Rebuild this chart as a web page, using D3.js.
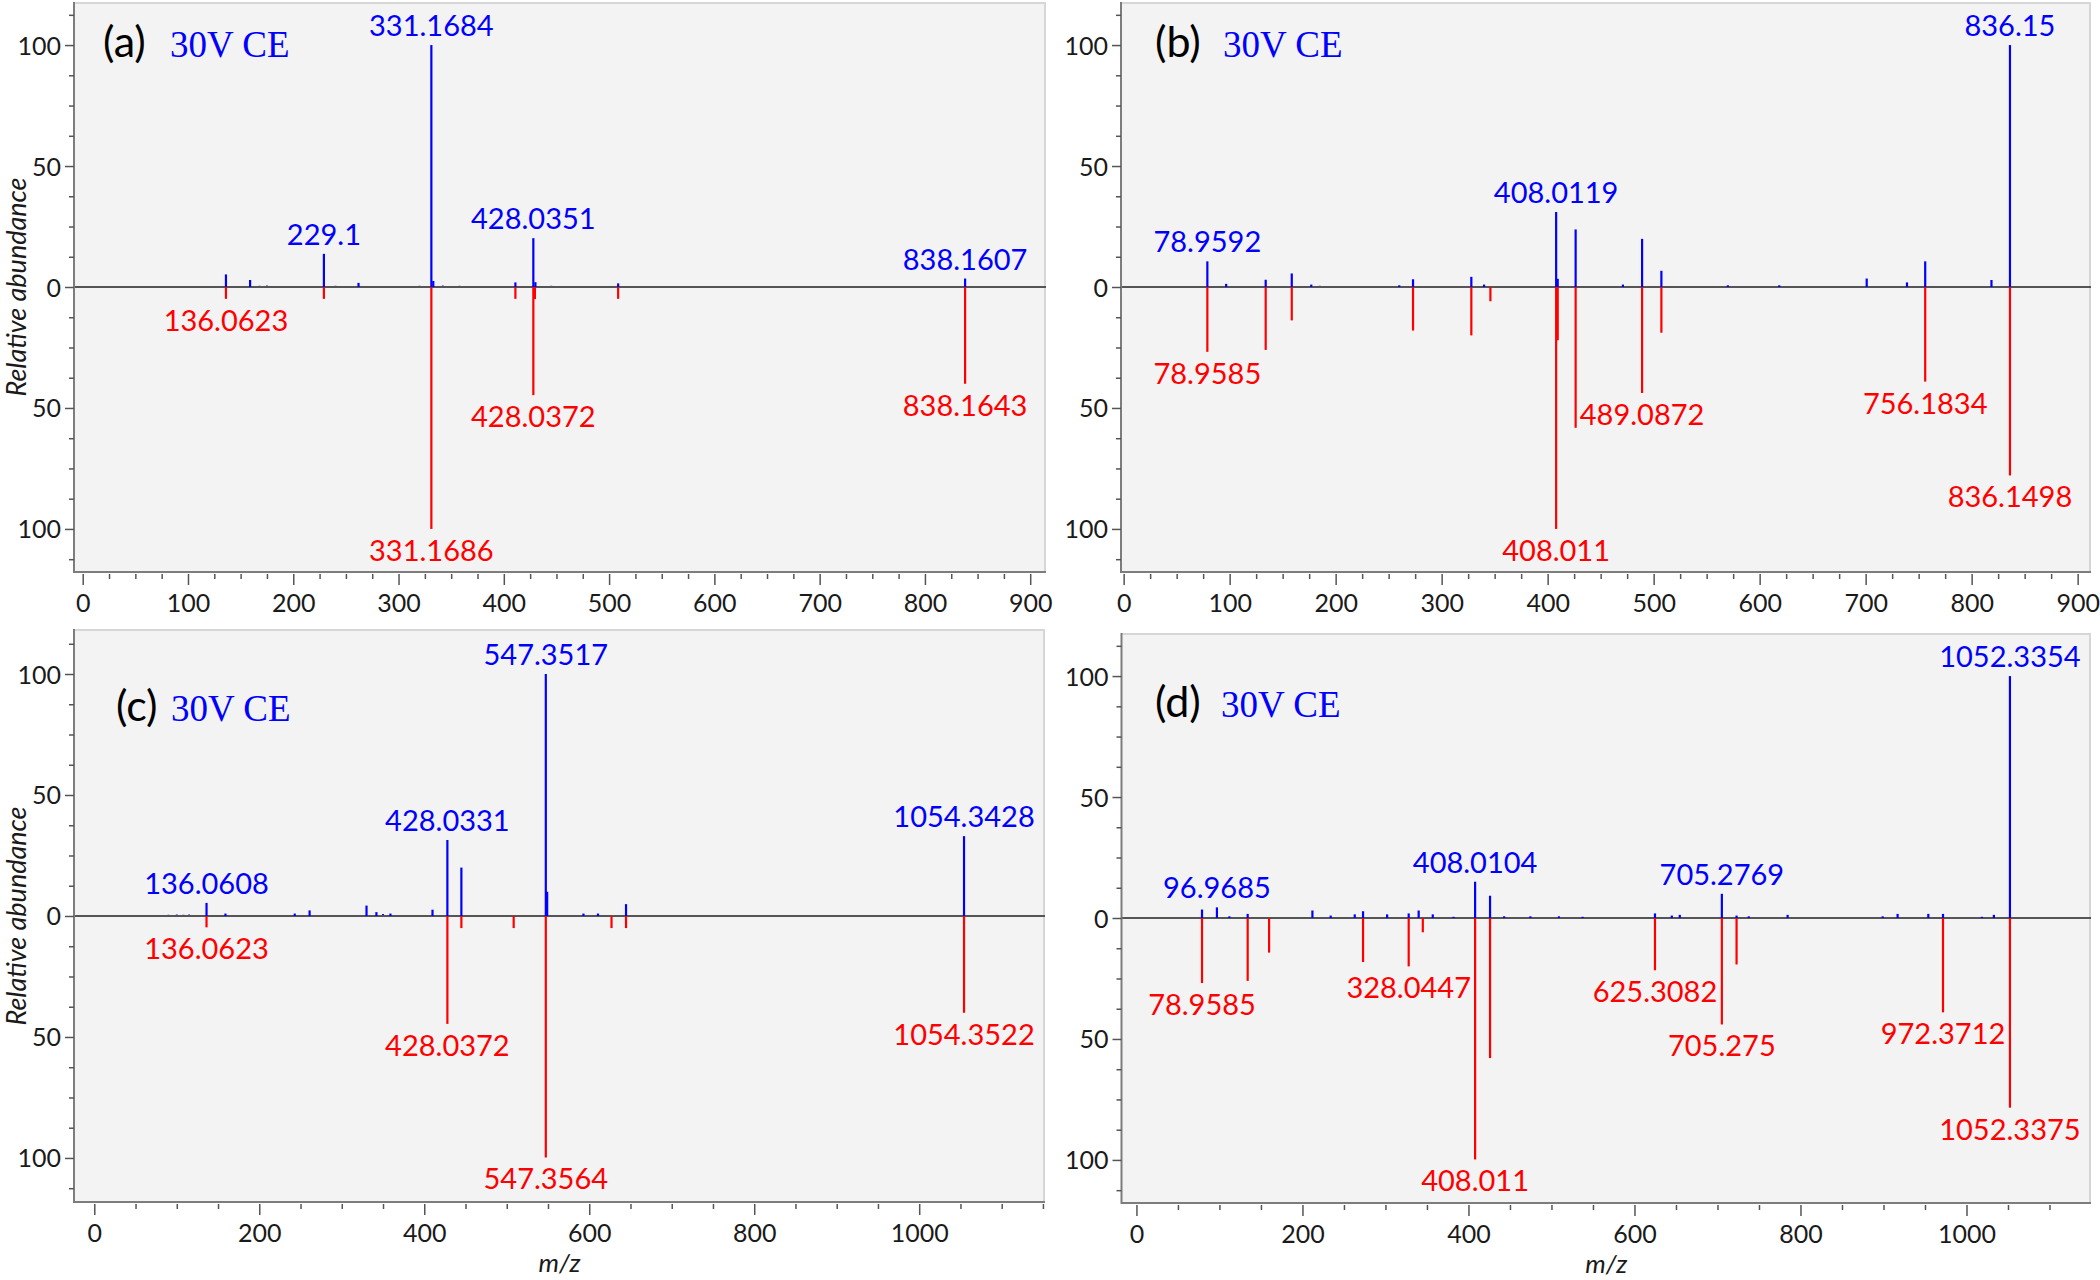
<!DOCTYPE html>
<html><head><meta charset="utf-8">
<script src="https://cdn.jsdelivr.net/npm/d3@7"></script>
<style>
html,body{margin:0;padding:0;background:#fff;}
svg{display:block;}
</style></head><body>
<svg id="chart" width="2100" height="1280"></svg>
<script>
// ---------------- DATA ----------------
const panelTags = ["(a)", "(b)", "(c)", "(d)"];
const energyText = "30V CE";
const yAxisTitle = "Relative abundance";
const xAxisTitle = "m/z";
const yMajorTicks = [-100, -50, 0, 50, 100];
const xTicksTop = [0, 100, 200, 300, 400, 500, 600, 700, 800, 900];
const xTicksBottom = [0, 200, 400, 600, 800, 1000];

// peaks: [m/z, relative abundance]
const aBlue = [[136.06,5.2],[159,2.9],[229.1,13.7],[262,1.7],[331.17,100],[333,2.5],[411,1.9],[428.04,20.2],[430,2.0],[508.6,1.5],[838.16,3.5]];
const aRed  = [[136.06,4.9],[229.1,4.9],[331.17,100],[411,4.9],[428.04,44.7],[429.5,5],[508.6,4.9],[838.16,40]];
const aNoise = [[72,0.3],[85,0.3],[98,0.4],[110,0.3],[120,0.4],[128,0.3],[145,0.4],[152,0.3],[168,0.5],[175,0.6],[185,0.4],[200,0.3],[212,0.4],[240,0.5],[250,0.4],[282,0.4],[295,0.3],[310,0.4],[320,0.5],[342,0.6],[358,0.5],[375,0.3],[392,0.3],[445,0.5],[462,0.3],[485,0.3],[528,0.3],[560,0.2],[590,0.3],[612,0.2],[640,0.2],[690,0.2],[745,0.2]];
const aBlueLabels = [["229.1",229.1,13.7],["331.1684",331.17,100],["428.0351",428.04,20.2],["838.1607",838.16,3.5]];
const aRedLabels  = [["136.0623",136.06,4.9],["331.1686",331.17,100],["428.0372",428.04,44.7],["838.1643",838.16,40]];

const bBlue = [[78.96,10.6],[96.7,1.3],[134,3.0],[158.6,5.6],[177,1.0],[260,0.7],[273,3.2],[328,4.2],[340,1.0],[408.01,31],[409.5,3.4],[426.4,23.8],[471,1.0],[489.09,19.9],[507.3,6.7],[570,0.7],[618.5,0.7],[701,3.5],[739,1.9],[756.18,10.6],[818.7,2.9],[836.15,100]];
const bRed  = [[78.96,26.8],[134,26],[158.6,13.8],[273,18],[328,20],[346,5.9],[408.01,100],[409.5,22],[426.4,58.2],[489.09,43.8],[507.3,18.9],[756.18,39.1],[836.15,77.9]];
const bNoise = [[100,0.3],[115,0.3],[145,0.4],[185,0.5],[200,0.3],[215,0.3],[232,0.3],[248,0.4],[285,0.4],[300,0.3],[315,0.3],[355,0.4],[372,0.3],[390,0.4],[440,0.3],[455,0.3],[480,0.4],[520,0.3],[540,0.3],[555,0.3],[585,0.3],[600,0.3],[640,0.3],[660,0.3],[680,0.3],[720,0.2]];
const bBlueLabels = [["78.9592",78.96,10.6],["408.0119",408.01,31],["836.15",836.15,100]];
const bRedLabels  = [["78.9585",78.96,26.8],["408.011",408.01,100],["489.0872",489.09,43.8],["756.1834",756.18,39.1],["836.1498",836.15,77.9]];

const cBlue = [[136.06,5.4],[159,1.0],[243,1.0],[261,2.3],[330,4.3],[342,1.6],[359,1.0],[410,2.6],[428.03,31.4],[445,20],[547.35,100],[549,10],[593,1.0],[610.6,1.0],[644.6,4.9],[1054.34,33]];
const cRed  = [[136.06,4.7],[428.03,44.6],[445,5],[508.4,5],[547.35,99.8],[627,5],[644.6,5],[1054.34,40]];
const cNoise = [[78,0.3],[90,0.5],[100,0.6],[108,0.5],[115,0.6],[122,0.4],[148,0.4],[172,0.4],[185,0.3],[200,0.3],[215,0.3],[230,0.4],[280,0.3],[295,0.3],[350,0.8],[375,0.4],[390,0.4],[455,0.4],[470,0.3],[490,0.3],[520,0.4],[570,0.3],[620,0.4],[660,0.4],[690,0.3],[720,0.3],[740,0.3],[770,0.3],[800,0.3],[830,0.3],[880,0.3],[920,0.3]];
const cBlueLabels = [["136.0608",136.06,5.4],["428.0331",428.03,31.4],["547.3517",547.35,100],["1054.3428",1054.34,33]];
const cRedLabels  = [["136.0623",136.06,4.7],["428.0372",428.03,44.6],["547.3564",547.35,99.8],["1054.3522",1054.34,40]];

const dBlue = [[79,3.5],[96.97,4.4],[112,0.7],[134,1.7],[212,3.1],[234,1.0],[263,1.5],[273,2.8],[302,1.5],[328,1.9],[340,3.1],[357,1.5],[382,0.5],[408.01,15],[426,9.2],[443,0.7],[474.6,0.7],[509,0.7],[537.5,0.5],[624.7,1.9],[645,1.0],[654.6,1.3],[705.28,10],[723,1.0],[737.7,0.7],[784.5,1.3],[899,0.7],[917,1.7],[954,1.7],[971.7,1.7],[1018.6,0.5],[1033,1.3],[1052.34,100]];
const dRed  = [[79,26.9],[134,26],[159.8,14.3],[273,18.2],[328,20],[345,5.9],[408.01,99.8],[426,57.9],[624.7,21.6],[705.28,44],[723,19.2],[971.7,39],[1052.34,78.4]];
const dNoise = [[90,0.4],[150,0.4],[175,0.4],[190,0.3],[250,0.4],[285,0.4],[315,0.4],[370,0.4],[395,0.3],[455,0.4],[490,0.4],[520,0.3],[560,0.3],[580,0.3],[600,0.3],[640,0.4],[670,0.4],[690,0.4],[760,0.3],[800,0.4],[830,0.3],[860,0.3],[880,0.3],[935,0.3],[990,0.3],[1005,0.4]];
const dBlueLabels = [["96.9685",96.97,4.4],["408.0104",408.01,15],["705.2769",705.28,10],["1052.3354",1052.34,100]];
const dRedLabels  = [["78.9585",79,26.9],["328.0447",328,20],["408.011",408.01,99.8],["625.3082",624.7,21.6],["705.275",705.28,44],["972.3712",971.7,39],["1052.3375",1052.34,78.4]];

// ---------------- LAYOUT ----------------
const panels = [
  {tag:panelTags[0], left:74, right:1046, top:2, bottom:572, xDomain:[-8.27,915], yDomain:[-117.8,117.8], xTicks:xTicksTop, xMinorStep:25, tagX:103, ceX:170, tagY:57, yTitle:true, xTitle:false,
   blue:aBlue, red:aRed, noise:aNoise, bl:aBlueLabels, rl:aRedLabels},
  {tag:panelTags[1], left:1121, right:2091, top:2, bottom:572, xDomain:[-2.5,912.6], yDomain:[-117.8,117.8], xTicks:xTicksTop, xMinorStep:25, tagX:1155, ceX:1223, tagY:57, yTitle:false, xTitle:false,
   blue:bBlue, red:bRed, noise:bNoise, bl:bBlueLabels, rl:bRedLabels},
  {tag:panelTags[2], left:74, right:1045, top:629, bottom:1202, xDomain:[-24.6,1152.5], yDomain:[-118.2,118.6], xTicks:xTicksBottom, xMinorStep:50, tagX:116, ceX:171, tagY:721, yTitle:true, xTitle:true,
   blue:cBlue, red:cRed, noise:cNoise, bl:cBlueLabels, rl:cRedLabels},
  {tag:panelTags[3], left:1121.5, right:2091, top:633, bottom:1203, xDomain:[-18,1150], yDomain:[-117.8,117.8], xTicks:xTicksBottom, xMinorStep:50, tagX:1155, ceX:1221, tagY:717, yTitle:false, xTitle:true,
   blue:dBlue, red:dRed, noise:dNoise, bl:dBlueLabels, rl:dRedLabels}
];

const SANS = "Lato, 'Open Sans', sans-serif";
const SERIF = "'Liberation Serif', 'Times New Roman', serif";
const BLUE = "#0000ff", RED = "#ff0000";

const svg = d3.select("#chart");

panels.forEach(p => {
  const x = d3.scaleLinear().domain(p.xDomain).range([p.left, p.right]);
  const y = d3.scaleLinear().domain(p.yDomain).range([p.bottom, p.top]);
  const g = svg.append("g");

  // plot background & frame
  g.append("rect").attr("x", p.left).attr("y", p.top)
    .attr("width", p.right - p.left).attr("height", p.bottom - p.top)
    .attr("fill", "#f3f3f3");
  g.append("line").attr("x1", p.left).attr("x2", p.right).attr("y1", p.top + 1).attr("y2", p.top + 1)
    .attr("stroke", "#d6d6d6").attr("stroke-width", 2);
  g.append("line").attr("x1", p.right - 1).attr("x2", p.right - 1).attr("y1", p.top).attr("y2", p.bottom)
    .attr("stroke", "#d6d6d6").attr("stroke-width", 2);

  // noise peaks
  g.append("g").selectAll("line").data(p.noise).join("line")
    .attr("x1", d => x(d[0])).attr("x2", d => x(d[0]))
    .attr("y1", y(0)).attr("y2", d => y(d[1]))
    .attr("stroke", BLUE).attr("stroke-width", 2);

  // zero line
  g.append("line").attr("x1", p.left).attr("x2", p.right).attr("y1", y(0)).attr("y2", y(0))
    .attr("stroke", "#555").attr("stroke-width", 2);

  // red (reference, mirrored) peaks
  g.append("g").selectAll("line").data(p.red).join("line")
    .attr("x1", d => x(d[0])).attr("x2", d => x(d[0]))
    .attr("y1", y(0)).attr("y2", d => y(-d[1]))
    .attr("stroke", RED).attr("stroke-width", 2.2);
  // blue peaks
  g.append("g").selectAll("line").data(p.blue).join("line")
    .attr("x1", d => x(d[0])).attr("x2", d => x(d[0]))
    .attr("y1", y(0)).attr("y2", d => y(d[1]))
    .attr("stroke", BLUE).attr("stroke-width", 2.2);

  // peak labels
  g.append("g").selectAll("text").data(p.bl).join("text")
    .attr("x", d => x(d[1])).attr("y", d => y(d[2]) - 9)
    .attr("text-anchor", "middle").attr("font-family", SANS).attr("font-size", 29)
    .attr("fill", BLUE).text(d => d[0]);
  g.append("g").selectAll("text").data(p.rl).join("text")
    .attr("x", d => x(d[1])).attr("y", d => y(-d[2]) + 32)
    .attr("text-anchor", "middle").attr("font-family", SANS).attr("font-size", 29)
    .attr("fill", RED).text(d => d[0]);

  // left & bottom frame (darker)
  g.append("line").attr("x1", p.left).attr("x2", p.left).attr("y1", p.top).attr("y2", p.bottom + 1)
    .attr("stroke", "#7d7d7d").attr("stroke-width", 2);
  g.append("line").attr("x1", p.left).attr("x2", p.right).attr("y1", p.bottom).attr("y2", p.bottom)
    .attr("stroke", "#7d7d7d").attr("stroke-width", 2);

  // y axis
  const yMinor = d3.range(-112.5, 112.6, 12.5).filter(v => !yMajorTicks.includes(v));
  const yMin = g.append("g").attr("transform", `translate(${p.left},0)`)
    .call(d3.axisLeft(y).tickValues(yMinor).tickSize(5).tickFormat(""));
  const yMaj = g.append("g").attr("transform", `translate(${p.left},0)`)
    .call(d3.axisLeft(y).tickValues(yMajorTicks).tickSize(9).tickPadding(4).tickFormat(d => Math.abs(d)));
  [yMin, yMaj].forEach(a => { a.select(".domain").remove(); a.selectAll("line").attr("stroke", "#555").attr("stroke-width", 1.5); });
  yMaj.selectAll("text").attr("font-family", SANS).attr("font-size", 25).attr("fill", "#1a1a1a").attr("dy", "0.36em");

  // x axis
  const xMinorVals = d3.range(0, p.xDomain[1], p.xMinorStep).filter(v => !p.xTicks.includes(v));
  const xMin = g.append("g").attr("transform", `translate(0,${p.bottom + 2})`)
    .call(d3.axisBottom(x).tickValues(xMinorVals).tickSize(5).tickFormat(""));
  const xMaj = g.append("g").attr("transform", `translate(0,${p.bottom + 2})`)
    .call(d3.axisBottom(x).tickValues(p.xTicks).tickSize(11).tickFormat(d3.format("d")));
  [xMin, xMaj].forEach(a => { a.select(".domain").remove(); a.selectAll("line").attr("stroke", "#555").attr("stroke-width", 1.5); });
  xMaj.selectAll("text").attr("font-family", SANS).attr("font-size", 25).attr("fill", "#1a1a1a")
    .attr("dy", null).attr("y", 38);

  // panel tag and energy
  g.append("text").attr("x", p.tagX).attr("y", p.tagY).attr("font-family", SANS).attr("font-size", 43)
    .attr("fill", "#000").text(p.tag);
  g.append("text").attr("x", p.ceX).attr("y", p.tagY).attr("font-family", SERIF).attr("font-size", 37)
    .attr("fill", BLUE).text(energyText);

  // axis titles
  if (p.yTitle) {
    const cy = y(0);
    g.append("text").attr("transform", `translate(26,${cy}) rotate(-90)`)
      .attr("text-anchor", "middle").attr("font-family", SANS).attr("font-style", "italic")
      .attr("font-size", 27).attr("fill", "#1a1a1a").text(yAxisTitle);
  }
  if (p.xTitle) {
    g.append("text").attr("x", (p.left + p.right) / 2).attr("y", p.bottom + 70)
      .attr("text-anchor", "middle").attr("font-family", SANS).attr("font-style", "italic")
      .attr("font-size", 26).attr("fill", "#1a1a1a").text(xAxisTitle);
  }
});
</script>
</body></html>
